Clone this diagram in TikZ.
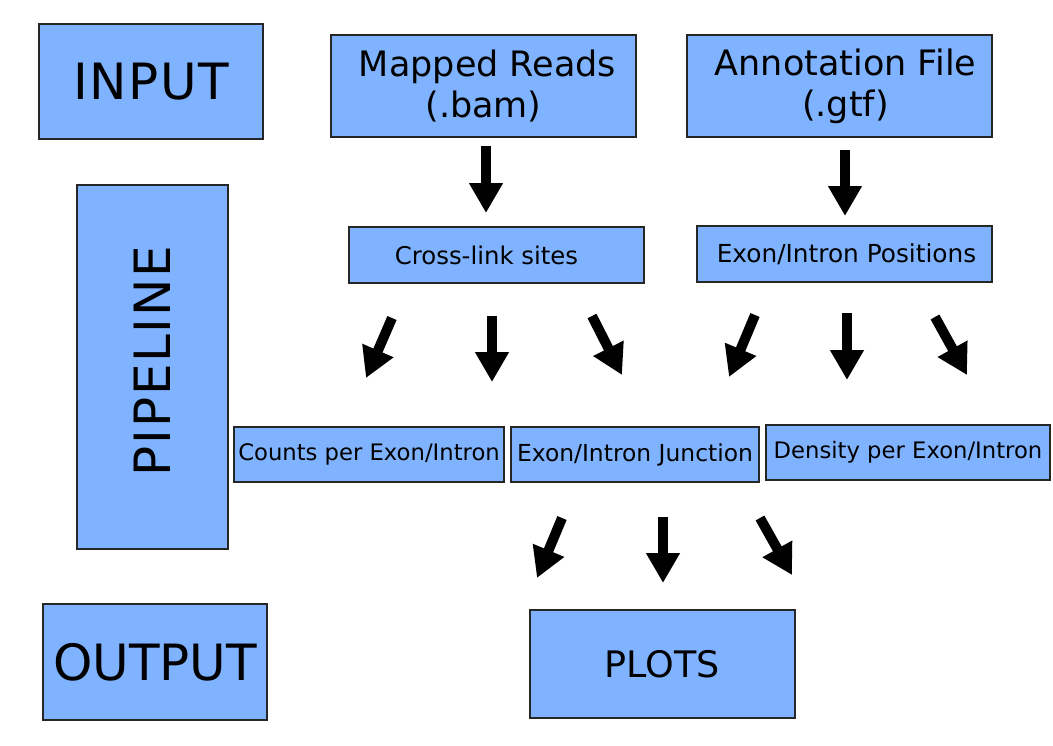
\documentclass[tikz,border=0pt]{standalone}
\usepackage{fontspec}
\setmainfont{DejaVu Sans}
\usepackage{tikz}
\usetikzlibrary{arrows.meta}
\definecolor{boxblue}{HTML}{80B3FF}
\tikzset{
  stage/.style={rectangle, draw=black!85, line width=1.6pt, fill=boxblue, text centered, inner sep=0pt},
  bigtext/.style={stage, font=\fontsize{50}{60}\selectfont},
  midtext/.style={stage, font=\fontsize{35}{41}\selectfont, align=center},
  smalltext/.style={stage, font=\fontsize{#1}{27}\selectfont},
  smalltext/.default=22.7,
  arrow/.style={line width=10pt, -{Triangle[length=30pt,width=32pt]}}
}
\begin{document}
\begin{tikzpicture}[x=1pt,y=-1pt]
    \useasboundingbox (0,0) rectangle (1053,745);

    % side labels
    \node (input) [bigtext, minimum width=224pt, minimum height=115pt] at (151,81.5) {\addfontfeatures{LetterSpace=3}INPUT};
    \node (pipeline) [bigtext, rotate=90, minimum width=364pt, minimum height=151pt] at (152.5,367) {\addfontfeatures{LetterSpace=3.5}\hspace*{12pt}PIPELINE};
    \node (output) [bigtext, minimum width=224pt, minimum height=116pt] at (155,662) {OUTPUT};

    % inputs
    \node (bam) [midtext, minimum width=305pt, minimum height=102pt] at (483.5,86) {\hspace*{8pt}Mapped Reads\\(.bam)};
    \node (gtf) [midtext, minimum width=305pt, minimum height=102pt] at (839.5,86) {\hspace*{12pt}Annotation File\\\hspace*{12pt}(.gtf)};

    % pipeline steps
    \node (sites) [smalltext=24.4, minimum width=295pt, minimum height=56pt] at (496.5,255) {Cross-link sites\hspace*{20pt}};
    \node (pos) [smalltext=24.8, minimum width=295pt, minimum height=56pt] at (844.5,254) {\hspace*{4pt}Exon/Intron Positions};
    \node (counts) [smalltext, minimum width=270pt, minimum height=55pt] at (369,454.5) {Counts per Exon/Intron};
    \node (junc) [smalltext=23.4, minimum width=248pt, minimum height=55pt] at (635,454.5) {Exon/Intron Junction};
    \node (dens) [smalltext, minimum width=284pt, minimum height=55pt] at (908,452.5) {Density per Exon/Intron};

    % output
    \node (plots) [midtext, font=\fontsize{36.5}{42}\selectfont, minimum width=265pt, minimum height=108pt] at (662.5,664) {PLOTS};

    % arrow end points
    \coordinate (bam-a) at (486,146);   \coordinate (bam-b) at (486,213);
    \coordinate (gtf-a) at (845,150);   \coordinate (gtf-b) at (845,216);
    \coordinate (sites-a1) at (392,318); \coordinate (sites-b1) at (366,378);
    \coordinate (sites-a2) at (492,316); \coordinate (sites-b2) at (492,382);
    \coordinate (sites-a3) at (592,316); \coordinate (sites-b3) at (622,375);
    \coordinate (pos-a1) at (755,315);  \coordinate (pos-b1) at (729,377);
    \coordinate (pos-a2) at (847,313);  \coordinate (pos-b2) at (847,380);
    \coordinate (pos-a3) at (935,317);  \coordinate (pos-b3) at (967,375);
    \coordinate (junc-a1) at (562,518); \coordinate (junc-b1) at (537,578);
    \coordinate (junc-a2) at (663,517); \coordinate (junc-b2) at (663,583);
    \coordinate (junc-a3) at (760,518); \coordinate (junc-b3) at (792,575);

    % arrows
    \draw[arrow] (bam-a) -- (bam-b);
    \draw[arrow] (gtf-a) -- (gtf-b);
    \draw[arrow] (sites-a1) -- (sites-b1);
    \draw[arrow] (sites-a2) -- (sites-b2);
    \draw[arrow] (sites-a3) -- (sites-b3);
    \draw[arrow] (pos-a1) -- (pos-b1);
    \draw[arrow] (pos-a2) -- (pos-b2);
    \draw[arrow] (pos-a3) -- (pos-b3);
    \draw[arrow] (junc-a1) -- (junc-b1);
    \draw[arrow] (junc-a2) -- (junc-b2);
    \draw[arrow] (junc-a3) -- (junc-b3);
\end{tikzpicture}
\end{document}
